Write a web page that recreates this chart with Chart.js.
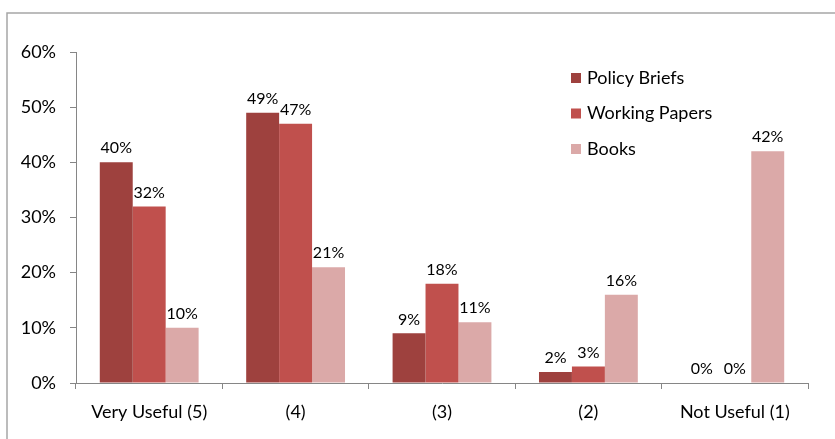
<!DOCTYPE html>
<html>
<head>
<meta charset="utf-8">
<script src="https://cdn.jsdelivr.net/npm/chart.js@4"></script>
<style>
  html, body { margin: 0; padding: 0; background: #fff; }
  #wrap { width: 835px; height: 439px; }
</style>
</head>
<body>
<div id="wrap"><canvas id="bars" width="835" height="439"></canvas></div>
<script>
const categories = ['Very Useful (5)', '(4)', '(3)', '(2)', 'Not Useful (1)'];
const seriesNames = ['Policy Briefs', 'Working Papers', 'Books'];
const policyBriefs = [40, 49, 9, 2, 0];
const workingPapers = [32, 47, 18, 3, 0];
const books = [10, 21, 11, 16, 42];
const yTicks = [0, 10, 20, 30, 40, 50, 60];

const colors = ['#9e413e', '#c0504d', '#dba9a8'];
const font = 'Lato, "Open Sans", sans-serif';

// grey frame around the chart (only top and left edges are visible)
const framePlugin = {
    id: 'frame',
    beforeDraw(chart) {
        const ctx = chart.ctx;
        ctx.save();
        ctx.strokeStyle = '#a6a6a6';
        ctx.lineWidth = 1.5;
        ctx.beginPath();
        ctx.moveTo(7, 439);
        ctx.lineTo(7, 13);
        ctx.lineTo(835, 13);
        ctx.stroke();
        ctx.restore();
    }
};

// percent labels above each bar
const valueLabels = {
    id: 'valueLabels',
    afterDatasetsDraw(chart) {
        const ctx = chart.ctx;
        ctx.save();
        ctx.font = '16px ' + font;
        ctx.fillStyle = '#000';
        ctx.textAlign = 'center';
        ctx.textBaseline = 'bottom';
        chart.data.datasets.forEach((ds, i) => {
            chart.getDatasetMeta(i).data.forEach((bar, j) => {
                ctx.fillText(ds.data[j] + '%', bar.x, bar.y - 6);
            });
        });
        ctx.restore();
    }
};

// legend inside the plot, like the original
const boxLegend = {
    id: 'boxLegend',
    afterDraw(chart) {
        const ctx = chart.ctx;
        ctx.save();
        ctx.font = '18px ' + font;
        ctx.textBaseline = 'middle';
        chart.data.datasets.forEach((ds, i) => {
            const y = 78 + i * 35.5;
            ctx.fillStyle = ds.backgroundColor;
            ctx.fillRect(571, y - 5, 10, 10);
            ctx.fillStyle = '#000';
            ctx.fillText(ds.label, 587, y);
        });
        ctx.restore();
    }
};

new Chart(document.getElementById('bars'), {
    type: 'bar',
    data: {
        labels: categories,
        datasets: [
            { label: seriesNames[0], data: policyBriefs, backgroundColor: colors[0] },
            { label: seriesNames[1], data: workingPapers, backgroundColor: colors[1] },
            { label: seriesNames[2], data: books, backgroundColor: colors[2] }
        ]
    },
    options: {
        responsive: false,
        animation: false,
        layout: { padding: { left: 0, top: 52, right: 27, bottom: 0 } },
        datasets: {
            bar: { categoryPercentage: 0.675, barPercentage: 1.0 }
        },
        scales: {
            x: {
                afterFit(scale) { scale.height = 56; },
                grid: { display: true, drawOnChartArea: false, drawTicks: true, tickLength: 6, color: '#868686', offset: true },
                border: { display: true, color: '#868686' },
                ticks: { color: '#000', font: { family: font, size: 18 }, padding: 12 }
            },
            y: {
                min: 0,
                max: 60,
                afterFit(scale) { scale.width = 76; },
                afterBuildTicks(scale) { scale.ticks = yTicks.map(v => ({ value: v })); },
                grid: { display: true, drawOnChartArea: false, drawTicks: true, tickLength: 6, color: '#868686' },
                border: { display: true, color: '#868686' },
                ticks: {
                    color: '#000',
                    font: { family: font, size: 18 },
                    padding: 14,
                    callback: v => v + '%'
                }
            }
        },
        plugins: {
            legend: { display: false },
            tooltip: { enabled: false }
        }
    },
    plugins: [framePlugin, valueLabels, boxLegend]
});
</script>
</body>
</html>
